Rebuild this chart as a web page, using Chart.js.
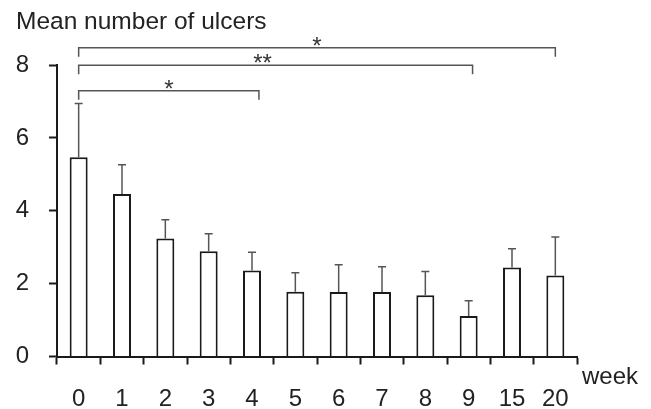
<!DOCTYPE html>
<html>
<head>
<meta charset="utf-8">
<script src="https://cdn.jsdelivr.net/npm/chart.js@4/dist/chart.umd.min.js"></script>
<style>
  html, body { margin: 0; padding: 0; background: #fff; }
  #wrap { width: 651px; height: 409px; position: relative; }
</style>
</head>
<body>
<div id="wrap"><canvas id="ulcerChart"></canvas></div>
<script>
// data
const weeks = ["0", "1", "2", "3", "4", "5", "6", "7", "8", "9", "15", "20"];
const meanUlcers = [5.47, 4.46, 3.24, 2.89, 2.36, 1.78, 1.77, 1.77, 1.68, 1.11, 2.44, 2.22];
const errUpper = [1.47, 0.80, 0.51, 0.48, 0.50, 0.52, 0.75, 0.69, 0.65, 0.42, 0.52, 1.06];
const yTicks = [0, 2, 4, 6, 8];

// significance brackets: category index from/to, level in y units
const bracketFrom = [0, 0, 0];
const bracketTo = [11, 9.09, 4.16];
const bracketLevel = [8.47, 7.99, 7.29];
const bracketLabel = ["*", "**", "*"];

const textColor = "#222";
const axisColor = "#1a1a1a";
const fontFamily = "Arial, 'Liberation Sans', Helvetica, sans-serif";

// error bars (upper only) + brackets + axis captions
const extrasPlugin = {
    id: "extras",
    afterDatasetsDraw(chart) {
        const ctx = chart.ctx;
        const x = chart.scales.x;
        const y = chart.scales.y;
        const meta = chart.getDatasetMeta(0);

        ctx.save();
        ctx.strokeStyle = "#555";
        ctx.lineWidth = 1.5;
        meta.data.forEach((bar, i) => {
            const top = y.getPixelForValue(meanUlcers[i] + errUpper[i]);
            const base = y.getPixelForValue(meanUlcers[i]);
            ctx.beginPath();
            ctx.moveTo(bar.x, base);
            ctx.lineTo(bar.x, top);
            ctx.moveTo(bar.x - 4, top);
            ctx.lineTo(bar.x + 4, top);
            ctx.stroke();
        });

        // brackets
        const step = x.getPixelForValue(1) - x.getPixelForValue(0);
        ctx.strokeStyle = "#555";
        ctx.lineWidth = 1.5;
        ctx.fillStyle = "#333";
        ctx.font = "24px " + fontFamily;
        ctx.textAlign = "center";
        ctx.textBaseline = "alphabetic";
        bracketLevel.forEach((lvl, k) => {
            const x1 = x.getPixelForValue(0) + bracketFrom[k] * step;
            const x2 = x.getPixelForValue(0) + bracketTo[k] * step;
            const yy = y.getPixelForValue(lvl);
            ctx.beginPath();
            ctx.moveTo(x1, yy + 9);
            ctx.lineTo(x1, yy);
            ctx.lineTo(x2, yy);
            ctx.lineTo(x2, yy + 9);
            ctx.stroke();
            const mid = k === 1 ? (x1 + x2) / 2 - 13 : (x1 + x2) / 2;
            ctx.fillText(bracketLabel[k], mid, yy + 6);
        });

        ctx.fillStyle = textColor;
        ctx.textAlign = "left";
        ctx.textBaseline = "middle";
        ctx.font = "24.5px " + fontFamily;
        ctx.fillText("Mean number of ulcers", 16, 22);
        ctx.font = "24px " + fontFamily;
        ctx.fillText("week", x.right + 5, 377);
        ctx.restore();
    }
};

new Chart(document.getElementById("ulcerChart").getContext("2d"), {
    type: "bar",
    data: {
        labels: weeks,
        datasets: [{
            data: meanUlcers,
            backgroundColor: "#fff",
            borderColor: axisColor,
            borderWidth: 2,
            borderSkipped: "start",
            categoryPercentage: 1,
            barPercentage: 0.415
        }]
    },
    options: {
        responsive: true,
        maintainAspectRatio: false,
        animation: false,
        events: [],
        layout: { padding: { top: 65, right: 74, left: 0, bottom: 0 } },
        plugins: {
            legend: { display: false },
            tooltip: { enabled: false }
        },
        scales: {
            x: {
                offset: true,
                grid: {
                    offset: true,
                    drawOnChartArea: false,
                    tickLength: 8,
                    tickWidth: 2,
                    tickColor: axisColor
                },
                border: { color: axisColor, width: 2 },
                ticks: {
                    color: textColor,
                    padding: 20,
                    maxRotation: 0,
                    font: { family: fontFamily, size: 24 }
                },
                afterFit(scale) { scale.height = 52.5; }
            },
            y: {
                min: 0,
                max: 8,
                afterBuildTicks(scale) { scale.ticks = yTicks.map(v => ({ value: v })); },
                grid: {
                    drawOnChartArea: false,
                    tickLength: 8,
                    tickWidth: 2,
                    tickColor: axisColor
                },
                border: { color: axisColor, width: 2 },
                ticks: {
                    color: textColor,
                    padding: 20,
                    font: { family: fontFamily, size: 24 }
                },
                afterFit(scale) { scale.width = 57; }
            }
        }
    },
    plugins: [extrasPlugin]
});
</script>
</body>
</html>
